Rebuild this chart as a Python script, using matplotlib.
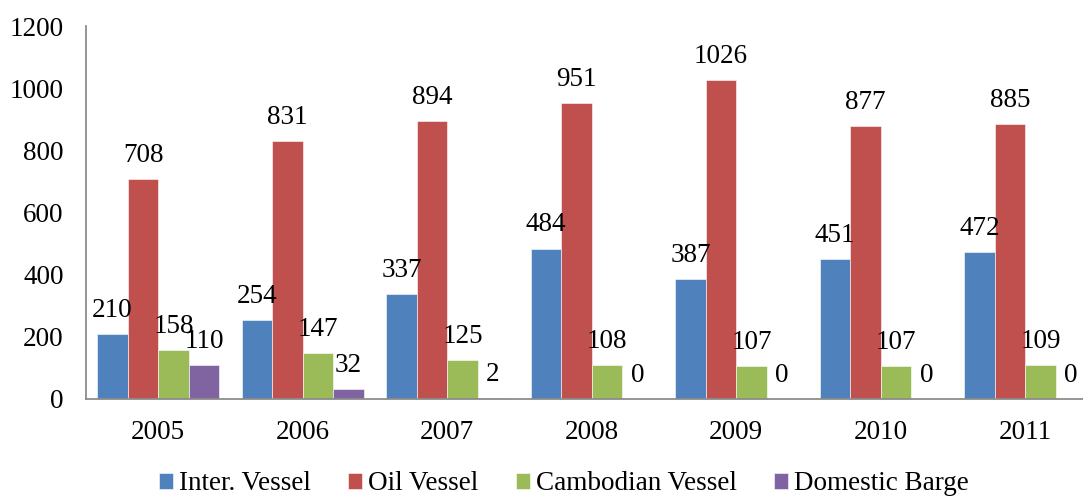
import matplotlib
matplotlib.use("Agg")
import matplotlib.pyplot as plt
import numpy as np

years = ["2005", "2006", "2007", "2008", "2009", "2010", "2011"]
inter_vessel = [210, 254, 337, 484, 387, 451, 472]
oil_vessel = [708, 831, 894, 951, 1026, 877, 885]
cambodian_vessel = [158, 147, 125, 108, 107, 107, 109]
domestic_barge = [110, 32, 2, 0, 0, 0, 0]
series_names = ["Inter. Vessel", "Oil Vessel", "Cambodian Vessel", "Domestic Barge"]
colors = ["#4F81BD", "#C0504D", "#9BBB59", "#8064A2"]

plt.rcParams['font.family'] = ['Liberation Serif', 'DejaVu Serif']
FS = 19.5

W, H = 1083, 496
fig = plt.figure(figsize=(W / 100, H / 100), dpi=100)
left = 86 / W
bottom = (H - 399) / H
height = (399 - 26) / H
width = 1011.5 / W
ax = fig.add_axes([left, bottom, width, height])

x = np.arange(len(years))
bw = 0.211
series = [inter_vessel, oil_vessel, cambodian_vessel, domestic_barge]
for i, (vals, name, c) in enumerate(zip(series, series_names, colors)):
    pos = x + (i - 1.5) * bw
    ax.bar(pos, vals, bw, color=c, label=name, edgecolor='white', linewidth=0.4)
    for p, v in zip(pos, vals):
        ax.annotate(str(v), (p, v), xytext=(0, 8), textcoords='offset points',
                    ha='center', va='bottom', fontsize=FS)

ax.set_xlim(-0.5, len(years) - 0.5)
ax.set_ylim(0, 1200)
ax.set_yticks(range(0, 1201, 200))
ax.set_xticks(x)
ax.set_xticklabels(years)
ax.tick_params(axis='both', length=0, labelsize=FS)
ax.tick_params(axis='x', pad=15)
ax.tick_params(axis='y', pad=16)
for s in ['top', 'right']:
    ax.spines[s].set_visible(False)
for s in ['left', 'bottom']:
    ax.spines[s].set_color('#8c8c8c')
    ax.spines[s].set_linewidth(1.3)

fig.legend(loc='center', bbox_to_anchor=(564 / W, (H - 484) / H), ncol=4,
           frameon=False, fontsize=FS, handlelength=0.52, handleheight=0.52,
           handletextpad=0.22, columnspacing=1.37, borderaxespad=0)

fig.savefig("out.png", dpi=100)
